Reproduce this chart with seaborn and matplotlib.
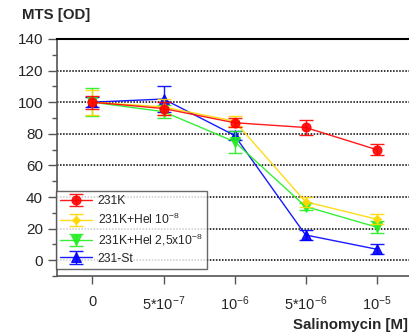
import numpy as np
import pandas as pd
import matplotlib
matplotlib.use('Agg')
import matplotlib.pyplot as plt
import seaborn as sns
from matplotlib.legend_handler import HandlerTuple
from matplotlib.ticker import MultipleLocator

# Data
conc_labels = ['0', r'5*10$^{-7}$', r'10$^{-6}$', r'5*10$^{-6}$', r'10$^{-5}$']
series_names = ['231K', r'231K+Hel 10$^{-8}$', r'231K+Hel 2,5x10$^{-8}$', '231-St']

k_mean = [100, 96, 87, 84, 70]
k_err = [4, 4, 3, 5, 3.5]
hel1_mean = [100, 97, 88, 37, 26]
hel1_err = [8, 5, 3, 3, 3]
hel25_mean = [100, 94, 75, 34, 21]
hel25_err = [9, 4, 7, 2, 4]
st_mean = [100, 102, 79, 16, 7]
st_err = [3, 8, 3, 3, 3]

means = [k_mean, hel1_mean, hel25_mean, st_mean]
errs = [k_err, hel1_err, hel25_err, st_err]
colors = ['#ff0000', '#ffd700', '#22ee22', '#0000ff']
markers = ['o', 'D', 'v', '^']
msizes = [6.5, 4, 6.5, 6.5]

sns.set_style('white')
plt.rcParams['font.family'] = ['Liberation Sans', 'DejaVu Sans']
plt.rcParams['mathtext.default'] = 'regular'

fig = plt.figure(figsize=(4.10, 3.33), dpi=100)
ax = fig.add_axes([0.139, 0.171, 0.866, 0.712])

rows = []
for name, m in zip(series_names, means):
    for i, v in enumerate(m):
        rows.append({'x': i, 'y': v, 'series': name})
df = pd.DataFrame(rows)

# draw last series first so the red one ends on top
handles = {}
for idx in reversed(range(len(series_names))):
    name, e, c, mk, ms = series_names[idx], errs[idx], colors[idx], markers[idx], msizes[idx]
    sub = df[df['series'] == name]
    sns.lineplot(data=sub, x='x', y='y', color=c, marker=mk, markersize=ms,
                 markeredgecolor=c, linewidth=1.0, alpha=0.9, ax=ax, legend=False)
    line = ax.lines[-1]
    eb = ax.errorbar(sub['x'], sub['y'], yerr=e, fmt='none', ecolor=c,
                     elinewidth=1.0, capsize=5, capthick=1.0, alpha=0.9)
    handles[name] = (line, eb)

ax.set_xlim(-0.5, 4.5)
ax.set_ylim(-10, 140)
ax.set_xticks(range(5))
ax.set_xticklabels(conc_labels, fontsize=10.5)
ax.set_yticks(range(0, 141, 20))
ax.yaxis.set_minor_locator(MultipleLocator(10))
ax.tick_params(axis='y', which='major', direction='out', length=6.5, width=1,
               color='#555555', labelsize=11, left=True)
ax.tick_params(axis='y', which='minor', direction='out', length=3.5, width=1,
               color='#555555', left=True)
ax.tick_params(axis='x', direction='out', length=5.5, width=1, color='#555555',
               pad=8, bottom=True)
ax.set_xlabel('')
ax.set_ylabel('')

for v in range(0, 121, 20):
    ax.axhline(v, color='black', linestyle=(0, (1, 1)), linewidth=1.1, zorder=0)

ax.spines['top'].set_color('black')
ax.spines['top'].set_linewidth(1.5)
ax.spines['right'].set_visible(False)
ax.spines['left'].set_color('#555555')
ax.spines['left'].set_linewidth(1.2)
ax.spines['bottom'].set_color('#555555')
ax.spines['bottom'].set_linewidth(1.2)

leg = ax.legend([handles[n] for n in series_names], series_names,
                handler_map={tuple: HandlerTuple(ndivide=1)},
                loc='lower left', bbox_to_anchor=(-0.003, 0.03), borderaxespad=0,
                fontsize=8.7, frameon=True, fancybox=False, handlelength=2.6,
                labelspacing=0.4, borderpad=0.35, handletextpad=0.5)
leg.get_frame().set_edgecolor('#444444')
leg.get_frame().set_linewidth(1.0)

fig.text(22 / 410, 1 - 15 / 333, 'MTS [OD]', fontsize=10.8, fontweight='bold',
         va='center', ha='left')
fig.text(408 / 410, 1 - 325 / 333, 'Salinomycin [M]', fontsize=10.8,
         fontweight='bold', va='center', ha='right')

fig.savefig('out.png', dpi=100)
